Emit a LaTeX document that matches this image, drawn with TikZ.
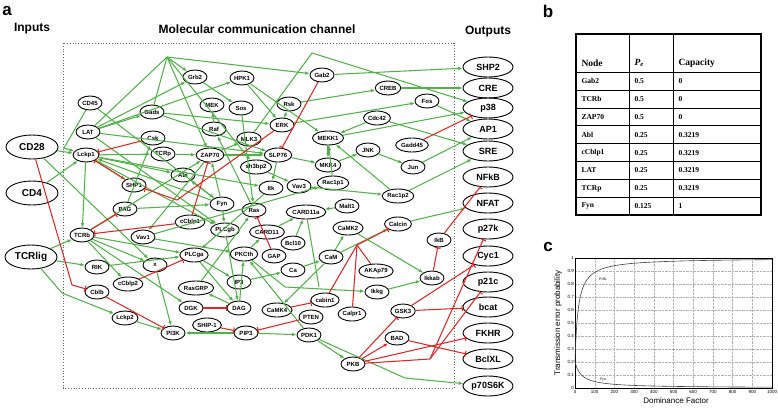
\documentclass[tikz,border=0pt]{standalone}
\usepackage{fontspec}
\setmainfont{Liberation Sans}
\newfontfamily\serifb{Liberation Serif}
\usetikzlibrary{shapes.geometric,arrows.meta}
\definecolor{grn}{RGB}{80,178,72}
\definecolor{rd}{RGB}{226,38,38}
\begin{document}
\begin{tikzpicture}[x=1pt,y=-1pt,
 nd/.style={ellipse, draw, line width=0.9pt, font=\fontsize{6}{7}\selectfont\bfseries, inner xsep=0.5pt, inner ysep=0pt, minimum height=14pt, minimum width=24pt},
 inp/.style={ellipse, draw, line width=0.9pt, font=\fontsize{10}{11}\selectfont\bfseries, minimum width=52pt, minimum height=24pt, inner sep=0pt},
 outp/.style={ellipse, draw, line width=0.9pt, font=\fontsize{9}{10}\selectfont\bfseries, minimum width=50pt, minimum height=20pt, inner sep=0pt},
 act/.style={draw=grn, line width=1.05pt, -{Latex[length=4.5pt,width=3.6pt]}},
 actl/.style={draw=grn, line width=1.05pt},
 inh/.style={draw=rd, line width=1.05pt, -{Bar[width=6pt]}},
 redarr/.style={draw=rd, line width=1.05pt, -{Latex[length=4.5pt,width=3.6pt]}},
 inhl/.style={draw=rd, line width=1.05pt},
 ttl/.style={font=\fontsize{12}{14}\selectfont\bfseries},
 tcell/.style={font=\serifb\fontsize{7.5}{9}\selectfont\bfseries, anchor=west},
 thd/.style={font=\serifb\fontsize{9.5}{11}\selectfont\bfseries, anchor=west},
 tick/.style={font=\fontsize{4.5}{5}\selectfont, inner sep=1pt}
]
\useasboundingbox (0,0) rectangle (778,407);
% titles
\node[font=\fontsize{17}{18}\selectfont\bfseries] (la) at (7,11) {a};
\node[font=\fontsize{17}{18}\selectfont\bfseries] (lb) at (548,11) {b};
\node[font=\fontsize{17}{18}\selectfont\bfseries] (lc) at (548,247) {c};
\node[ttl] (tin) at (32,29) {Inputs};
\node[ttl] (tmc) at (257,29) {Molecular communication channel};
\node[ttl] (tout) at (488,32) {Outputs};
\draw[dotted, gray!80!black, line width=0.8pt] (63,43) rectangle (454,388);
% inputs
\node[inp] (CD28) at (32,147) {CD28};
\node[inp] (CD4) at (32,193) {CD4};
\node[inp] (TCRlig) at (31,257) {TCRlig};
% outputs
\foreach \n/\t/\y in {SHP2/SHP2/67, CRE/CRE/88, p38/p38/108, AP1/AP1/129, SRE/SRE/151, NFkB/NFkB/177, NFAT/NFAT/203, p27k/p27k/229, Cyc1/Cyc1/256, p21c/p21c/282, bcat/bcat/307, FKHR/FKHR/333, BclXL/BclXL/359, p70S6K/p70S6K/386}
  \node[outp] (\n) at (488,\y) {\t};
% internal nodes
\node[nd] (CD45) at (90,103) {CD45};
\node[nd] (LAT) at (88,132) {LAT};
\node[nd] (Lckp1) at (86,155) {Lckp1};
\node[nd] (Gads) at (152,112) {Gads};
\node[nd] (Grb2) at (195,77) {Grb2};
\node[nd] (HPK1) at (242,78) {HPK1};
\node[nd] (Gab2) at (322,75) {Gab2};
\node[nd] (MEK) at (212,105) {MEK};
\node[nd] (Sos) at (241,108) {Sos};
\node[nd] (Rsk) at (289,104) {Rsk};
\node[nd] (ERK) at (282,125) {ERK};
\node[nd] (Raf) at (214,129) {Raf};
\node[nd] (Csk) at (153,138) {Csk};
\node[nd] (MLK3) at (249,139) {MLK3};
\node[nd] (MEKK1) at (328,138) {MEKK1};
\node[nd] (CREB) at (388,88) {CREB};
\node[nd] (Fos) at (427,101) {Fos};
\node[nd] (Cdc42) at (377,118) {Cdc42};
\node[nd] (Gadd45) at (412,145) {Gadd45};
\node[nd] (JNK) at (368,150) {JNK};
\node[nd] (Jun) at (413,167) {Jun};
\node[nd] (TCRp) at (163,154) {TCRp};
\node[nd] (ZAP70) at (210,155) {ZAP70};
\node[nd] (SLP76) at (278,155) {SLP76};
\node[nd] (MKK4) at (328,165) {MKK4};
\node[nd] (sh3bp2) at (256,167) {sh3bp2};
\node[nd] (Abl) at (183,175) {Abl};
\node[nd] (SHP1) at (134,185) {SHP1};
\node[nd] (Itk) at (271,188) {Itk};
\node[nd] (Vav3) at (299,186) {Vav3};
\node[nd] (Rac1p1) at (333,183) {Rac1p1};
\node[nd] (Rac1p2) at (398,196) {Rac1p2};
\node[nd] (Fyn) at (222,204) {Fyn};
\node[nd] (PAG) at (125,209) {PAG};
\node[nd] (Ras) at (254,210) {Ras};
\node[nd] (CARD11a) at (306,212) {CARD11a};
\node[nd] (Malt1) at (347,206) {Malt1};
\node[nd] (cCblp1) at (190,222) {cCblp1};
\node[nd] (PLCgb) at (225,230) {PLCgb};
\node[nd] (CARD11) at (267,232) {CARD11};
\node[nd] (Bcl10) at (293,243) {Bcl10};
\node[nd] (CaMK2) at (348,228) {CaMK2};
\node[nd] (Calcin) at (398,224) {Calcin};
\node[nd] (IkB) at (439,240) {IkB};
\node[nd] (TCRb) at (82,235) {TCRb};
\node[nd] (Vav1) at (143,237) {Vav1};
\node[nd] (PLCga) at (194,255) {PLCga};
\node[nd] (PKCth) at (244,254) {PKCth};
\node[nd] (GAP) at (274,256) {GAP};
\node[nd] (CaM) at (331,257) {CaM};
\node[nd] (xx) at (155,265) {x};
\node[nd] (RIK) at (97,267) {RIK};
\node[nd] (Ca) at (293,270) {Ca};
\node[nd] (AKAp79) at (376,271) {AKAp79};
\node[nd] (Ikkab) at (432,278) {Ikkab};
\node[nd] (IP3) at (239,282) {IP3};
\node[nd] (cCblp2) at (128,284) {cCblp2};
\node[nd] (RasGRP) at (196,288) {RasGRP};
\node[nd] (Ikkg) at (377,292) {Ikkg};
\node[nd] (Cblb) at (97,292) {Cblb};
\node[nd] (cabin1) at (325,300) {cabin1};
\node[nd] (DGK) at (191,308) {DGK};
\node[nd] (DAG) at (239,308) {DAG};
\node[nd] (CaMK4) at (277,310) {CaMK4};
\node[nd] (GSK3) at (403,311) {GSK3};
\node[nd] (Calpr1) at (352,314) {Calpr1};
\node[nd] (PTEN) at (311,317) {PTEN};
\node[nd] (Lckp2) at (125,318) {Lckp2};
\node[nd] (SHIP) at (207,325) {SHIP-1};
\node[nd] (PI3K) at (173,333) {PI3K};
\node[nd] (PIP3) at (246,333) {PIP3};
\node[nd] (PDK1) at (309,335) {PDK1};
\node[nd] (BAD) at (397,338) {BAD};
\node[nd] (PKB) at (353,364) {PKB};
% junctions
\coordinate (H1) at (167,57);
\coordinate (H2) at (312,53);
\coordinate (Jcd) at (64,148);
\coordinate (Jtl) at (62,293);
\coordinate (Jred) at (357,245);
\coordinate (Jpkb) at (430,359);
\coordinate (Jcb) at (72,285);
\coordinate (Jshp) at (177,200);
\coordinate (Jp70) at (405,378);
\coordinate (Jkg) at (285,287);
\coordinate (Jkg2) at (319,287);
% green edges
\draw[act] (CD28) -- (Lckp1);
\draw[act] (CD28) -- (xx);
\draw[act] (CD4) -- (Lckp1);
\draw[act] (TCRlig) -- (TCRb);
\draw[act] (TCRlig) -- (RIK);
\draw[act] (CD45) -- (Jcd) -- (Lckp1);
\draw[act] (CD45) -- (Fyn);
\draw[act] (TCRlig) -- (Jtl) -- (Lckp2);
\draw[act] (LAT) -- (Gads);
\draw[actl] (LAT) -- (H1);
\draw[act] (LAT) -- (Grb2);
\draw[act] (LAT) -- (HPK1);
\draw[act] (LAT) -- (SLP76);
\draw[act] (LAT) -- (PLCgb);
\draw[actl] (Gads) -- (H1);
\draw[act] (H1) -- (Grb2);
\draw[act] (H1) -- (Gab2);
\draw[act] (H1) -- (ZAP70);
\draw[act] (H1) -- (sh3bp2);
\draw[act] (Gads) -- (ERK);
\draw[act] (Gads) -- (SLP76);
\draw[act] (Grb2) -- (Sos);
\draw[act] (Raf) -- (MEK);
\draw[act] (HPK1) -- (MEKK1);
\draw[act] (HPK1) -- (ERK);
\draw[act] (Sos) -- (Ras);
\draw[act] (Ras) -- (Raf);
\draw[act] (ERK) -- (Rsk);
\draw[act] (Rsk) -- (CREB);
\draw[act] (ERK) -- (Fos);
\draw[act] (CREB) -- (CRE);
\draw[act] (Gab2) -- (SHP2);
\draw[act] (Fos) -- (AP1);
\draw[act] (MLK3) -- (H2) -- (p38);
\draw[act] (MEKK1) -- (p38);
\draw[act] (Cdc42) -- (MEKK1);
\draw[act] (MEKK1) -- (MKK4);
\draw[act] (MKK4) -- (JNK);
\draw[act] (JNK) -- (Jun);
\draw[act] (Jun) -- (AP1);
\draw[act] (Cdc42) -- (SRE);
\draw[act] (Rac1p2) -- (SRE);
\draw[act] (Rac1p2) -- (MEKK1);
\draw[act] (Rac1p1) -- (MEKK1);
\draw[act] (Vav3) -- (Rac1p2);
\draw[act] (SLP76) -- (Itk);
\draw[act] (SLP76) -- (MKK4);
\draw[act] (sh3bp2) -- (Vav3);
\draw[act] (Lckp1) -- (TCRp);
\draw[act] (TCRp) -- (ZAP70);
\draw[act] (ZAP70) -- (SLP76);
\draw[act] (ZAP70) -- (MLK3);
\draw[act] (Lckp1) -- (SHP1);
\draw[act] (Lckp1) -- (Abl);
\draw[act] (Lckp1) -- (Itk);
\draw[act] (Lckp1) -- (PLCgb);
\draw[act] (Lckp1) -- (TCRb);
\draw[act] (Fyn) -- (Lckp1);
\draw[act] (Fyn) -- (ZAP70);
\draw[act] (Fyn) -- (Abl);
\draw[act] (PAG) -- (Fyn);
\draw[act] (PAG) -- (Csk);
\draw[act] (TCRb) -- (ZAP70);
\draw[act] (TCRb) -- (xx);
\draw[act] (TCRb) -- (cCblp2);
\draw[act] (TCRb) -- (PLCga);
\draw[act] (TCRb) -- (DGK);
\draw[act] (xx) -- (PI3K);
\draw[act] (Vav1) -- (Rac1p1);
\draw[act] (Vav1) -- (PKCth);
\draw[act] (ZAP70) -- (Vav1);
\draw[act] (RIK) -- (PLCga);
\draw[act] (Itk) -- (PLCga);
\draw[act] (Fyn) -- (PLCgb);
\draw[act] (PLCgb) -- (DAG);
\draw[act] (PLCga) -- (IP3);
\draw[act] (PLCga) -- (DAG);
\draw[act] (DAG) -- (RasGRP);
\draw[act] (RasGRP) -- (Ras);
\draw[act] (DAG) -- (PKCth);
\draw[act] (IP3) -- (Ca);
\draw[act] (Ca) -- (CaM);
\draw[act] (CaM) -- (CaMK2);
\draw[act] (CaM) -- (Calcin);
\draw[act] (CaM) -- (CaMK4);
\draw[act] (CaMK2) -- (Ikkab);
\draw[act] (Ikkg) -- (Ikkab);
\draw[act] (PKCth) -- (Jkg) -- (Ikkg);
\draw[actl] (CARD11a) -- (Jkg2);
\draw[act] (CARD11) -- (CARD11a);
\draw[act] (Bcl10) -- (CARD11a);
\draw[act] (Malt1) -- (CARD11a);
\draw[act] (PKCth) -- (CARD11);
\draw[act] (Calcin) -- (NFAT);
\draw[act] (Lckp2) -- (PI3K);
\draw[act] (PIP3) -- (PI3K);
\draw[act] (PIP3) -- (PDK1);
\draw[act] (PDK1) -- (PKB);
\draw[act] (PDK1) -- (PKCth);
\draw[act] (PDK1) -- (Jp70) -- (p70S6K);
% red edges
\draw[inh] (Csk) -- (Lckp1);
\draw[inh] (SHP1) -- (Lckp1);
\draw[inh] (ERK) -- (Jshp) -- (SHP1);
\draw[inh] (cCblp1) -- (TCRb);
\draw[inh] (cCblp1) -- (ZAP70);
\draw[inh] (TCRb) -- (PAG);
\draw[inh] (CD28) -- (Jcb) -- (Cblb);
\draw[inh] (Cblb) -- (PI3K);
\draw[inh] (cCblp2) -- (PLCga);
\draw[inh] (DGK) -- (DAG);
\draw[inh] (SHIP) -- (PIP3);
\draw[inh] (PTEN) -- (PIP3);
\draw[inh] (CaMK4) -- (cabin1);
\draw[inh] (GAP) -- (Ras);
\draw[inhl] (cabin1) -- (Jred);
\draw[inhl] (AKAp79) -- (Jred);
\draw[inhl] (Calpr1) -- (Jred);
\draw[inh] (Jred) -- (Calcin);
\draw[inh] (IkB) -- (NFkB);
\draw[inh] (Ikkab) -- (IkB);
\draw[inh] (GSK3) -- (Cyc1);
\draw[inh] (GSK3) -- (bcat);
\draw[inh] (PKB) -- (GSK3);
\draw[redarr] (PKB) -- (BAD);
\draw[inh] (PKB) -- (FKHR);
\draw[inhl] (PKB) -- (Jpkb);
\draw[inh] (Jpkb) -- (p21c);
\draw[inh] (Jpkb) -- (p27k);
\draw[inh] (BAD) -- (BclXL);
\draw[inh] (Gab2) -- (SLP76);
\draw[inh] (Gadd45) -- (p38);
% table
\draw[line width=0.8pt] (576,72) -- (761,72);
\foreach \y in {90,108,125,143,161,179,197} \draw[line width=0.8pt] (576,\y) -- (761,\y);
\draw[line width=0.8pt] (629,34) -- (629,215);
\draw[line width=0.8pt] (673,34) -- (673,215);
\draw[line width=1.3pt] (576,34) rectangle (761,215);
\node[thd] (h1) at (578,63) {Node};
\node[thd] (h2) at (631,63) {\itshape P\textsubscript{e}};
\node[thd] (h3) at (675,63) {Capacity};
\foreach \i/\a/\b/\c in {0/Gab2/0.5/0, 1/TCRb/0.5/0, 2/ZAP70/0.5/0, 3/Abl/0.25/0.3219, 4/cCblp1/0.25/0.3219, 5/LAT/0.25/0.3219, 6/TCRp/0.25/0.3219, 7/Fyn/0.125/1} {
  \node[tcell] (ta\i) at (578,{81+17.9*\i}) {\a};
  \node[tcell] (tb\i) at (631,{81+17.9*\i}) {\b};
  \node[tcell] (tc\i) at (675,{81+17.9*\i}) {\c};
}
% plot
\foreach \k in {1,...,9} {
  \draw[gray!60, densely dotted, line width=0.4pt] ({575+19.7*\k},258) -- ({575+19.7*\k},388);
  \draw[gray!60, densely dotted, line width=0.4pt] (575,{388-13*\k}) -- (772,{388-13*\k});
}
\draw[line width=0.5pt] (575,258) rectangle (772,388);
\foreach \k/\l in {0/0,1/100,2/200,3/300,4/400,5/500,6/600,7/700,8/800,9/900,10/1000}
  \node[tick, anchor=north] (xt\k) at ({575+19.7*\k},389) {\l};
\foreach \k/\l in {0/0,1/0.1,2/0.2,3/0.3,4/0.4,5/0.5,6/0.6,7/0.7,8/0.8,9/0.9,10/1}
  \node[tick, anchor=east] (yt\k) at (575,{388-13*\k}) {\l};
\draw[gray!50!black, line width=0.6pt, domain=0:60, samples=80, smooth] plot ({575+0.197*\x},{388-130*(1-0.8*16/(\x+16))});
\draw[gray!50!black, line width=0.6pt, domain=60:1000, samples=60, smooth] plot ({575+0.197*\x},{388-130*(1-0.8*16/(\x+16))});
\draw[gray!50!black, line width=0.6pt, domain=0:1000, samples=120, smooth] plot ({575+0.197*\x},{388-130*(0.2*33/(\x+33))});
\node[font=\fontsize{3.5}{4}\selectfont] (pk) at (603,279) {PI3K};
\node[font=\fontsize{3.5}{4}\selectfont] (fy) at (603,380) {Fyn};
\node[font=\fontsize{8}{9}\selectfont, rotate=90] (yl) at (558,323) {Transmission error probability};
\node[font=\fontsize{8}{9}\selectfont] (xl) at (676,401) {Dominance Factor};
\end{tikzpicture}
\end{document}
